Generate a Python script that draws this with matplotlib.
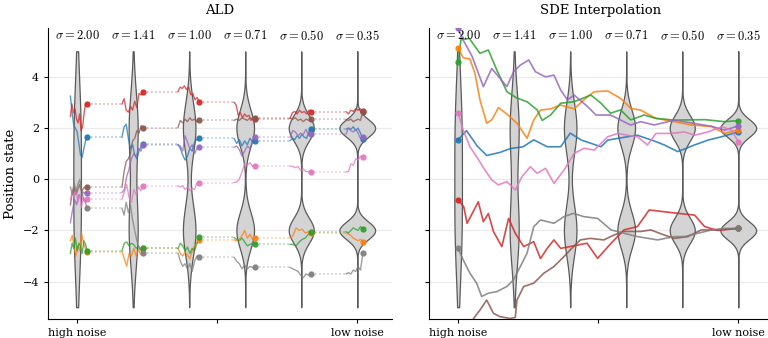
import numpy as np
import matplotlib
matplotlib.use('Agg')
import matplotlib.pyplot as plt

plt.rcParams['font.family'] = ['DejaVu Serif']
plt.rcParams['mathtext.fontset'] = 'cm'

# noise levels, one violin per level
sigmas = [2.00, 1.41, 1.00, 0.71, 0.50, 0.35]
# two-mode target distribution
modes = [-2.0, 2.0]

colors = ['tab:blue', 'tab:orange', 'tab:green', 'tab:red',
          'tab:purple', 'tab:brown', 'tab:pink', 'tab:gray']

# ALD: one short chain per noise level
ald_blue = [[3.25, 2.6, 2.1, 2.0, 1.85, 1.4, 0.95, 0.85, 1.2, 1.5, 1.64],
            [1.64, 2.05, 2.15, 1.6, 1.2, 1.35, 0.95, 0.8, 1.1, 1.3, 1.36],
            [1.36, 1.2, 0.95, 0.75, 0.9, 1.2, 1.1, 1.45, 1.55, 1.60],
            [1.60, 1.4, 1.55, 1.3, 1.5, 1.35, 1.6, 1.45, 1.51],
            [1.51, 1.6, 1.55, 1.7, 1.6, 1.75, 1.65, 1.6, 1.85, 1.96],
            [1.96, 2.0, 1.95, 2.05, 1.9, 2.0, 1.8, 1.56]]
ald_orange = [[-2.4, -2.2, -2.7, -3.0, -2.6, -2.8, -2.1, -2.5, -2.7, -2.83],
              [-2.83, -3.1, -3.4, -2.9, -3.0, -2.7, -3.0, -2.75, -2.95, -2.70],
              [-2.70, -2.9, -3.0, -2.85, -2.95, -3.1, -2.8, -2.6, -2.5, -2.37],
              [-2.37, -2.4, -2.35, -2.2, -2.0, -2.3, -2.15, -2.35, -2.28],
              [-2.28, -2.2, -1.9, -2.0, -1.95, -2.1, -2.05, -2.1],
              [-2.1, -2.15, -2.2, -2.3, -2.35, -2.4, -2.35, -2.44]]
ald_green = [[-2.9, -2.5, -2.7, -2.3, -2.8, -2.5, -2.6, -2.9, -2.4, -2.55, -2.79],
             [-2.79, -2.5, -2.45, -2.6, -2.5, -2.55, -2.7, -2.6, -2.75, -2.70],
             [-2.70, -2.5, -2.6, -2.8, -2.65, -2.9, -2.7, -2.8, -2.5, -2.27],
             [-2.27, -2.35, -2.4, -2.3, -2.45, -2.6, -2.55, -2.5, -2.54],
             [-2.54, -2.55, -2.6, -2.45, -2.35, -2.3, -2.15, -2.05],
             [-2.05, -2.1, -2.0, -1.9, -1.95, -2.0, -1.85, -1.95]]
ald_red = [[2.45, 2.95, 2.6, 2.75, 2.35, 2.2, 2.55, 1.9, 2.05, 2.6, 2.95, 2.94],
           [2.94, 3.15, 2.7, 2.62, 2.85, 2.7, 3.05, 2.8, 3.35, 3.3, 3.42],
           [3.42, 3.6, 3.55, 3.65, 3.5, 3.6, 3.3, 3.35, 3.1, 3.2, 3.01],
           [3.01, 2.9, 2.5, 2.6, 2.4, 2.55, 2.45, 2.5, 2.3, 2.4, 2.37],
           [2.37, 2.6, 2.65, 2.55, 2.7, 2.6, 2.65, 2.55, 2.7, 2.64],
           [2.64, 2.55, 2.7, 2.65, 2.75, 2.7, 2.75, 2.68]]
ald_purple = [[-1.7, -1.2, -0.8, -1.0, -0.6, -0.75, -0.5, -0.55, -0.52],
              [-0.52, -0.4, 0.1, 0.4, 0.8, 1.0, 0.9, 1.2, 1.1, 1.34],
              [1.34, 1.3, 1.1, 1.7, 1.45, 1.2, 1.35, 1.0, 1.2, 1.25],
              [1.25, 1.3, 1.15, 0.9, 1.1, 1.3, 1.2, 1.5, 1.64],
              [1.64, 1.9, 1.85, 1.7, 1.8, 1.75, 1.95, 1.7, 1.77],
              [1.77, 2.0, 1.9, 1.85, 1.95, 1.8, 1.6, 1.66]]
ald_brown = [[-1.0, -0.5, -0.3, -0.6, -0.4, -0.2, -0.5, -0.35, -0.3, -0.31],
             [-0.31, 0.3, 0.7, 0.8, 1.0, 1.5, 1.6, 1.9, 1.8, 2.1, 2.02],
             [2.02, 2.3, 2.2, 2.35, 2.25, 2.4, 2.3, 2.35, 2.25, 2.30],
             [2.30, 2.35, 2.3, 2.4, 2.35, 2.3, 2.4, 2.35, 2.39],
             [2.39, 2.35, 2.4, 2.3, 2.35, 2.25, 2.35, 2.3, 2.34],
             [2.34, 2.3, 2.35, 2.25, 2.3, 2.35, 2.3, 2.64]]
ald_pink = [[-0.8, -0.5, -0.7, -0.4, -0.9, -0.6, -1.1, -0.7, -0.9, -0.78],
            [-0.78, -0.5, -0.2, -0.7, -0.9, -0.4, -0.6, -0.3, -0.45, -0.26],
            [-0.26, -0.3, -0.25, -0.4, -0.3, -0.45, -0.35, -0.4, -0.15, -0.13],
            [-0.13, -0.1, 0.0, 0.3, 0.6, 0.55, 0.65, 0.5, 0.52],
            [0.52, 0.5, 0.45, 0.5, 0.35, 0.4, 0.3, 0.3, 0.29],
            [0.29, 0.3, 0.6, 0.55, 0.8, 0.75, 0.9, 0.86]]
ald_gray = [[-0.3, -0.6, -0.1, -0.5, -0.2, 0.0, -0.4, -0.8, -0.9, -1.13],
            [-1.13, -1.4, -0.9, -1.3, -1.0, -1.6, -2.0, -2.4, -2.7, -2.8, -2.89],
            [-2.89, -3.2, -3.4, -3.3, -3.5, -3.3, -3.6, -3.2, -3.0, -3.05],
            [-3.05, -3.2, -3.3, -3.5, -3.35, -3.5, -3.4, -3.45, -3.44],
            [-3.44, -3.5, -3.55, -3.6, -3.75, -3.85, -3.7, -3.75, -3.70],
            [-3.70, -3.65, -3.7, -3.55, -3.6, -3.4, -3.55, -2.89]]

# SDE interpolation: (time in level units, position)
sde_blue_t = [0, 0.15, 0.34, 0.51, 0.75, 0.93, 1.16, 1.35, 1.59, 1.83, 2.0, 2.2,
              2.55, 2.67, 3.02, 3.2, 3.53, 3.68, 3.92, 4.22, 4.46, 4.7, 5.0]
sde_blue_y = [1.54, 1.9, 1.3, 0.93, 1.05, 1.2, 1.27, 1.54, 1.27, 1.27, 1.8, 1.53,
              1.27, 1.53, 1.66, 1.72, 1.47, 1.34, 1.08, 1.34, 1.53, 1.66, 1.85]
sde_orange_t = [0, 0.09, 0.21, 0.3, 0.39, 0.51, 0.6, 0.72, 0.87, 1.05, 1.23, 1.35,
                1.47, 1.65, 1.83, 2.07, 2.31, 2.43, 2.67, 2.9, 3.08, 3.26, 3.53,
                3.86, 4.16, 4.52, 4.76, 5.0]
sde_orange_y = [5.12, 4.75, 4.7, 4.14, 3.1, 2.19, 2.32, 2.8, 2.55, 2.19, 1.6, 2.32,
                2.7, 2.75, 2.9, 2.75, 3.23, 3.42, 3.45, 3.16, 2.77, 2.7, 2.38,
                2.25, 2.12, 2.06, 1.79, 1.93]
sde_green_t = [0, 0.05, 0.2, 0.39, 0.54, 0.69, 0.87, 1.05, 1.23, 1.41, 1.5, 1.65,
               1.83, 2.07, 2.37, 2.55, 2.72, 2.9, 3.08, 3.32, 3.53, 3.86, 4.4,
               4.76, 5.0]
sde_green_y = [4.6, 5.45, 5.5, 4.92, 5.05, 4.27, 3.42, 3.17, 3.03, 2.71, 2.3, 2.51,
               2.97, 3.03, 3.29, 2.97, 2.58, 2.71, 2.32, 2.51, 2.38, 2.31, 2.33,
               2.25, 2.29]
sde_red_t = [0, 0.1, 0.16, 0.36, 0.45, 0.54, 0.63, 0.78, 0.9, 1.02, 1.17, 1.35,
             1.47, 1.59, 1.71, 1.83, 2.0, 2.3, 2.49, 2.73, 2.96, 3.2, 3.41, 3.68,
             3.92, 4.22, 4.4, 4.63, 5.0]
sde_red_y = [-0.81, -1.07, -1.72, -0.88, -1.66, -1.34, -2.04, -2.63, -1.53, -2.11,
             -2.63, -2.44, -3.1, -2.7, -2.37, -2.7, -2.63, -2.5, -3.09, -2.5,
             -1.98, -1.85, -1.2, -1.27, -1.33, -1.4, -1.85, -2.0, -1.92]
sde_purple_t = [0, 0.1, 0.25, 0.45, 0.6, 0.87, 0.99, 1.11, 1.26, 1.38, 1.56, 1.71,
                1.83, 1.95, 2.07, 2.31, 2.46, 2.72, 2.96, 3.08, 3.26, 3.5, 3.86,
                4.16, 4.52, 4.76, 5.0]
sde_purple_y = [5.9, 5.4, 4.8, 3.62, 4.33, 3.62, 4.2, 4.46, 4.66, 4.2, 4.0, 4.07,
                3.49, 3.1, 3.29, 2.84, 2.51, 2.51, 2.25, 2.12, 2.25, 2.12, 2.31,
                2.2, 2.07, 1.92, 2.08]
sde_brown_t = [0, 0.3, 0.39, 0.51, 0.63, 0.75, 0.93, 1.02, 1.05, 1.17, 1.35, 1.53,
               1.71, 1.89, 2.0, 2.18, 2.36, 2.6, 2.78, 2.96, 3.26, 3.44, 3.68,
               3.86, 4.1, 4.34, 4.58, 5.0]
sde_brown_y = [-6.3, -5.37, -5.11, -4.72, -5.24, -5.37, -5.44, -5.4, -4.72, -4.19,
               -4.06, -3.67, -3.41, -3.02, -2.76, -2.37, -2.31, -2.37, -2.18,
               -2.04, -2.04, -1.98, -2.18, -2.31, -2.24, -1.98, -1.98, -1.92]
sde_pink_t = [0, 0.09, 0.21, 0.33, 0.48, 0.6, 0.72, 0.87, 1.02, 1.14, 1.29, 1.41,
              1.56, 1.71, 1.89, 2.0, 2.07, 2.25, 2.43, 2.67, 2.85, 3.02, 3.2, 3.38,
              3.53, 3.8, 4.04, 4.22, 4.46, 4.7, 4.88, 5.0]
sde_pink_y = [2.59, 1.93, 1.27, 0.88, 0.36, -0.03, -0.22, -0.09, -0.42, 0.1, 0.49,
              0.23, 0.43, -0.16, 0.36, 0.75, 1.01, 1.21, 1.14, 1.66, 1.79, 1.72,
              1.66, 1.34, 1.79, 1.79, 1.85, 1.72, 1.85, 2.05, 1.92, 1.47]
sde_gray_t = [0, 0.09, 0.21, 0.33, 0.42, 0.54, 0.69, 0.87, 0.99, 1.11, 1.23, 1.35,
              1.47, 1.71, 1.89, 2.06, 2.24, 2.49, 2.73, 2.96, 3.2, 3.56, 3.86,
              4.04, 4.28, 4.52, 4.76, 5.0]
sde_gray_y = [-2.7, -3.15, -3.67, -4.06, -4.58, -4.45, -4.39, -4.19, -3.93, -3.41,
              -2.89, -1.85, -1.59, -1.72, -1.46, -1.33, -1.46, -1.53, -1.98, -2.11,
              -2.24, -2.37, -2.24, -2.24, -2.11, -1.98, -1.92, -1.92]

ald_chains = [ald_blue, ald_orange, ald_green, ald_red,
              ald_purple, ald_brown, ald_pink, ald_gray]
sde_paths = [(sde_blue_t, sde_blue_y), (sde_orange_t, sde_orange_y),
             (sde_green_t, sde_green_y), (sde_red_t, sde_red_y),
             (sde_purple_t, sde_purple_y), (sde_brown_t, sde_brown_y),
             (sde_pink_t, sde_pink_y), (sde_gray_t, sde_gray_y)]

positions = np.arange(len(sigmas))
# chain x-extent relative to its violin
start_off = [-0.12, -0.2, -0.2, -0.2, -0.2, -0.2]
end_off = [0.18, 0.18, 0.18, 0.18, 0.18, 0.1]


def violin_stats(sigma):
    coords = np.linspace(-5, 5, 400)
    dens = np.zeros_like(coords)
    for m in modes:
        dens += 0.5 * np.exp(-0.5 * ((coords - m) / sigma) ** 2) / (sigma * np.sqrt(2 * np.pi))
    return dict(coords=coords, vals=dens, mean=0.0, median=0.0, min=-5.0, max=5.0)


def draw_violins(ax):
    stats = [violin_stats(s) for s in sigmas]
    widths = [1.12 * st['vals'].max() for st in stats]
    parts = ax.violin(stats, positions=positions, widths=widths,
                      showmeans=False, showextrema=False, showmedians=False)
    for b in parts['bodies']:
        b.set_facecolor('#d4d4d4')
        b.set_edgecolor('#5a5a5a')
        b.set_linewidth(0.9)
        b.set_alpha(1)
        b.set_zorder(1)


def style_axes(ax, title):
    ax.set_xlim(-0.52, 5.62)
    ax.set_ylim(-5.46, 5.91)
    ax.set_yticks([-4, -2, 0, 2, 4])
    ax.set_xticks([0, 2.5, 5])
    ax.set_xticklabels(['high noise', '', 'low noise'])
    ax.tick_params(labelsize=8, length=3, width=0.8)
    ax.grid(axis='y', color='#ebebeb', linewidth=1)
    ax.set_axisbelow(True)
    for side in ['top', 'right']:
        ax.spines[side].set_visible(False)
    ax.set_title(title, fontsize=9.5, pad=10)
    for p, s in zip(positions, sigmas):
        ax.text(p, 5.6, r'$\sigma = %.2f$' % s, ha='center', va='center', fontsize=9)


fig = plt.figure(figsize=(7.68, 3.38), dpi=100)
ax1 = fig.add_axes([48 / 768, 19 / 338, 344 / 768, 291 / 338])
ax2 = fig.add_axes([429 / 768, 19 / 338, 344 / 768, 291 / 338])

# ALD panel
draw_violins(ax1)
for chain, c in zip(ald_chains, colors):
    for k, ys in enumerate(chain):
        xs = np.linspace(positions[k] + start_off[k], positions[k] + end_off[k], len(ys))
        ax1.plot(xs, ys, color=c, lw=1, alpha=0.75, zorder=3)
        ax1.plot(xs[-1], ys[-1], 'o', color=c, ms=3.5, alpha=0.9, zorder=4)
        if k + 1 < len(chain):
            ax1.plot([xs[-1], positions[k + 1] + start_off[k + 1]], [ys[-1], ys[-1]],
                     ls=':', color=c, lw=1.1, alpha=0.45, zorder=2)
style_axes(ax1, 'ALD')
ax1.set_ylabel('Position state', fontsize=9.5)

# SDE panel
draw_violins(ax2)
for (ts, ys), c in zip(sde_paths, colors):
    ax2.plot(ts, ys, color=c, lw=1.2, alpha=0.85, zorder=3)
    ax2.plot([ts[0], ts[-1]], [ys[0], ys[-1]], 'o', color=c, ms=3.5, alpha=0.9, zorder=4)
style_axes(ax2, 'SDE Interpolation')
ax2.set_yticklabels([])

fig.savefig('out.png', dpi=100)
